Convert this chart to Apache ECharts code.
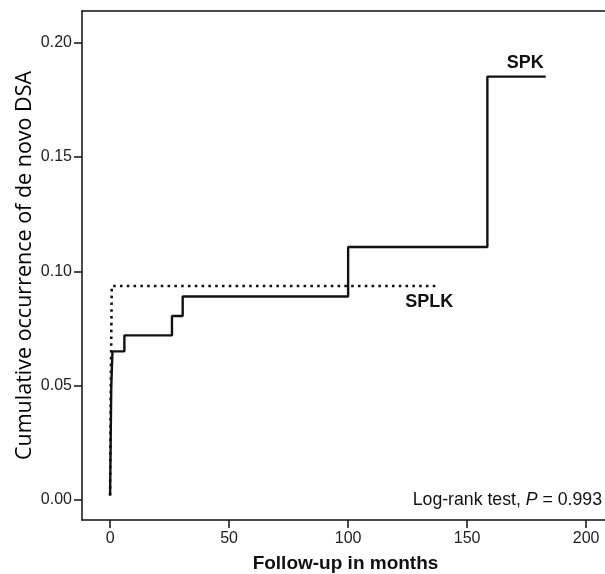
<!DOCTYPE html>
<html>
<head>
<meta charset="utf-8">
<script src="https://cdn.jsdelivr.net/npm/echarts@6/dist/echarts.min.js"></script>
<style>
  html, body { margin: 0; padding: 0; background: #fff; }
  #km { width: 605px; height: 574px; }
</style>
</head>
<body>
<div id="km"></div>
<script>
// cumulative incidence (months, proportion)
const spkMonths = [0, 0.5, 1, 6, 26, 30.5, 100, 158.5, 183];
const spkValues = [0.002, 0.05, 0.065, 0.072, 0.0805, 0.089, 0.1107, 0.1852, 0.1852];
const splkMonths = [0, 0.3, 0.7, 137];
const splkValues = [0.002, 0.05, 0.0936, 0.0936];
const xTicks = [0, 50, 100, 150, 200];
const yTicks = [0, 0.05, 0.1, 0.15, 0.2];

const pairs = (xs, ys) => xs.map((x, i) => [x, ys[i]]);
const font = "Liberation Sans";
const axisColor = "#111";
const xMin = -11.8, xMax = 209.6;

const chart = echarts.init(document.getElementById("km"));
chart.setOption({
  animation: false,
  grid: {
    left: 82,
    top: 11,
    right: -4,
    bottom: 54,
    outerBoundsMode: "none"
  },
  xAxis: [
    {
      type: "value",
      min: xMin,
      max: xMax,
      name: "Follow-up in months",
      nameLocation: "middle",
      nameGap: 34,
      nameTextStyle: { fontFamily: font, fontWeight: "bold", fontSize: 19, color: "#111" },
      splitLine: { show: false },
      axisLine: { onZero: false, lineStyle: { color: axisColor, width: 1.5 } },
      axisTick: { customValues: xTicks, length: 8, lineStyle: { color: axisColor, width: 1.5 } },
      axisLabel: {
        customValues: xTicks,
        margin: 11,
        fontFamily: font,
        fontSize: 16,
        color: "#222"
      }
    },
    {
      // top frame line only
      type: "value",
      position: "top",
      min: xMin,
      max: xMax,
      splitLine: { show: false },
      axisLine: { onZero: false, lineStyle: { color: axisColor, width: 1.5 } },
      axisTick: { show: false },
      axisLabel: { show: false }
    }
  ],
  yAxis: {
    type: "value",
    min: -0.00875,
    max: 0.2139,
    name: "Cumulative occurrence of de novo DSA",
    nameLocation: "middle",
    nameGap: 46,
    nameMoveOverlap: false,
    nameTextStyle: { fontFamily: "Open Sans", fontSize: 21.5, color: "#000" },
    splitLine: { show: false },
    axisLine: { onZero: false, lineStyle: { color: axisColor, width: 1.5 } },
    axisTick: { customValues: yTicks, length: 8, lineStyle: { color: axisColor, width: 1.5 } },
    axisLabel: {
      customValues: yTicks,
      margin: 10,
      fontFamily: font,
      fontSize: 16,
      color: "#222",
      formatter: v => v.toFixed(2)
    }
  },
  series: [
    {
      name: "SPLK",
      type: "line",
      step: "end",
      data: pairs(splkMonths, splkValues),
      showSymbol: false,
      lineStyle: { color: "#111", width: 2.6, type: [2.6, 4.2], cap: "butt" },
      endLabel: {
        show: true,
        formatter: "SPLK",
        distance: 0,
        align: "center",
        verticalAlign: "middle",
        offset: [-7, 16],
        fontFamily: font,
        fontWeight: "bold",
        fontSize: 18,
        color: "#111"
      }
    },
    {
      name: "SPK",
      type: "line",
      step: "end",
      data: pairs(spkMonths, spkValues),
      showSymbol: false,
      lineStyle: { color: "#111", width: 2.4 },
      endLabel: {
        show: true,
        formatter: "SPK",
        distance: 0,
        align: "right",
        verticalAlign: "middle",
        offset: [-2, -14],
        fontFamily: font,
        fontWeight: "bold",
        fontSize: 18,
        color: "#111"
      }
    }
  ],
  graphic: [
    {
      type: "text",
      right: 3,
      top: 491,
      style: {
        text: "{a|Log-rank test, }{i|P}{a| = 0.993}",
        rich: {
          a: { fontFamily: font, fontSize: 17.7, fill: "#111" },
          i: { fontFamily: font, fontSize: 17.7, fontStyle: "italic", fill: "#111" }
        }
      }
    }
  ]
});
</script>
</body>
</html>
